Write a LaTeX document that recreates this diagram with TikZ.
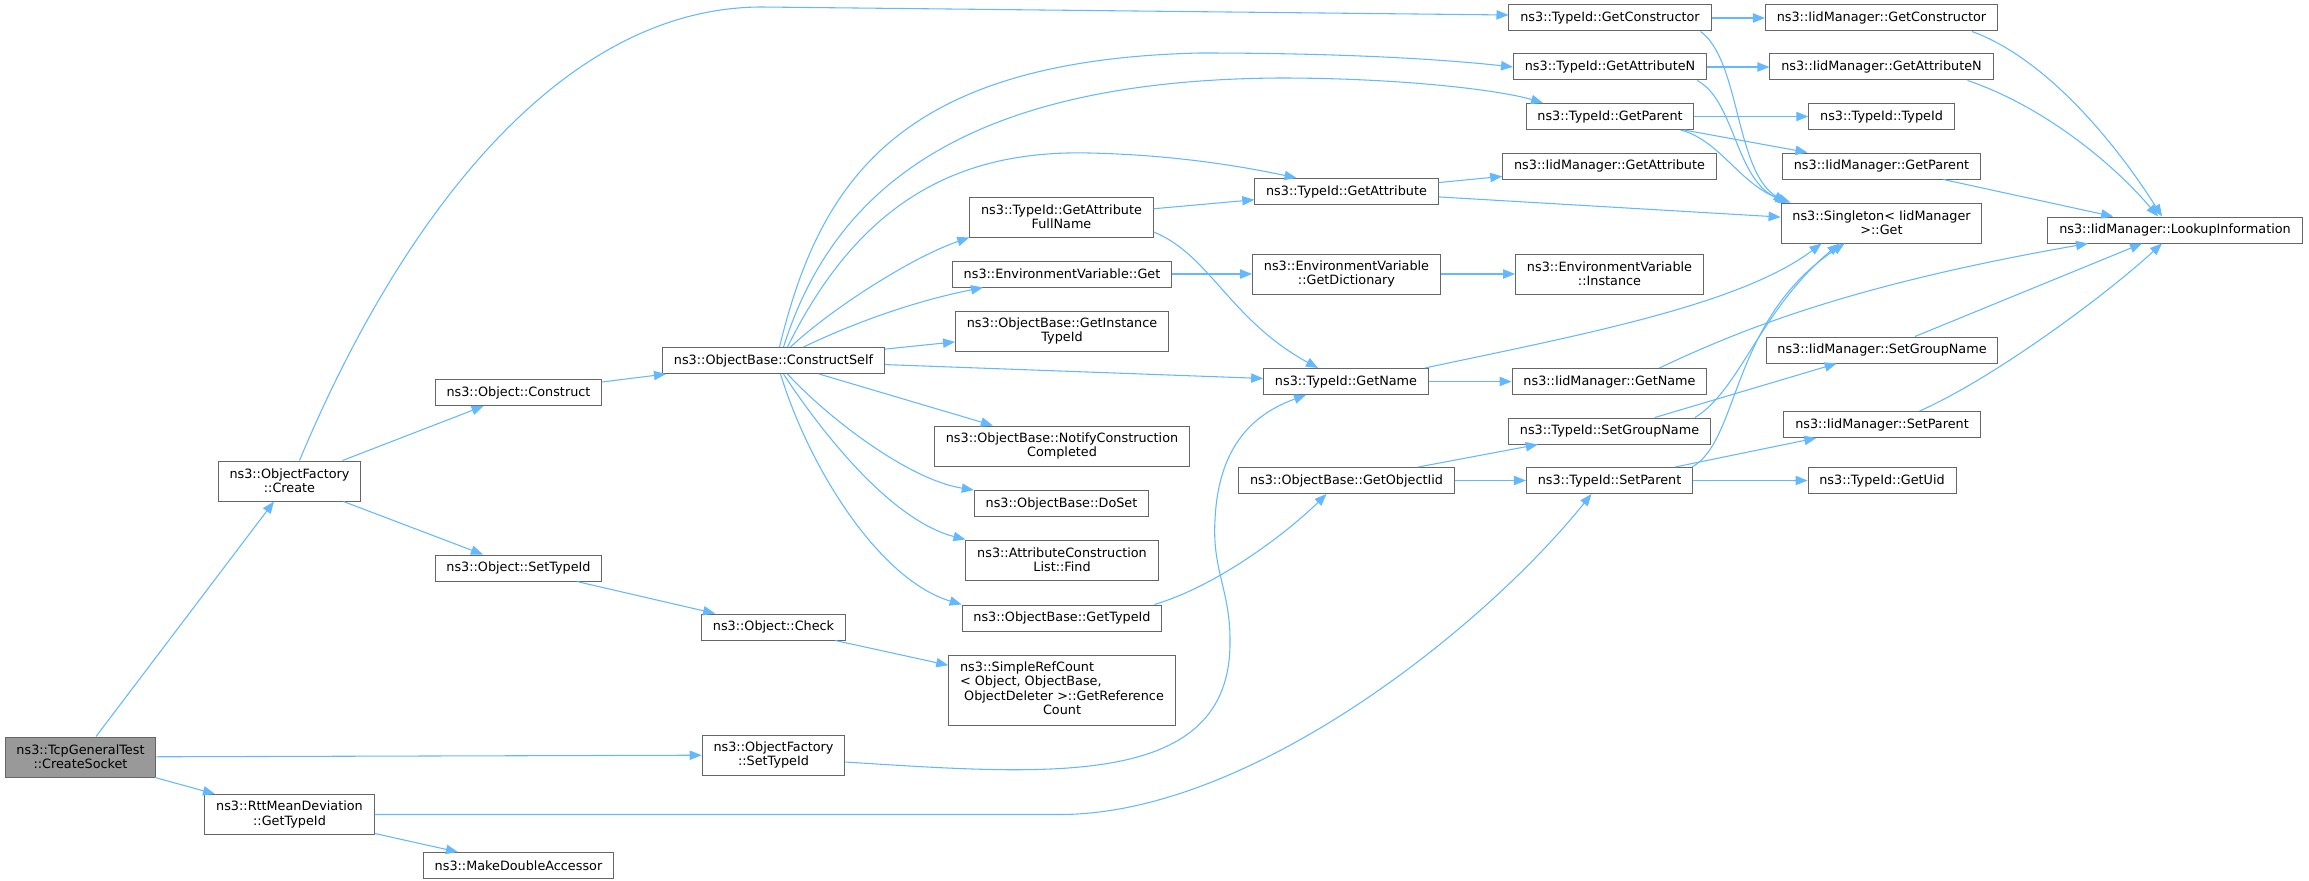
\documentclass[tikz,border=0pt]{standalone}
\usepackage{fontspec}
\setmainfont{DejaVu Sans}
\usepackage{xcolor}
\usetikzlibrary{arrows.meta,calc}
\definecolor{edgeblue}{HTML}{63B8FF}
\definecolor{boxgrey}{HTML}{666666}
\definecolor{curgrey}{HTML}{999999}
\tikzset{
  fn/.style={draw=boxgrey, line width=0.75pt, fill=white, inner xsep=8.5pt, inner ysep=2pt,
    minimum height=19.5pt, align=center, font=\fontsize{9.6}{10.8}\selectfont},
  fn2/.style={fn, minimum height=30pt},
  fn4/.style={fn, minimum height=52.5pt},
  cur/.style={fn2, fill=curgrey},
  call/.style={draw=edgeblue, line width=0.8pt, -{Triangle[length=9pt,width=7pt]}},
}

\begin{document}
\begin{tikzpicture}[x=0.75pt, y=-0.75pt]
    \useasboundingbox (0,0) rectangle (2309,881);
    % callers
    \node[cur] (cs) at (80.5,757) {ns3::TcpGeneralTest\\::CreateSocket};
    \node[fn2] (ofc) at (289.5,481) {ns3::ObjectFactory\\::Create};
    \node[fn2] (rtt) at (289.5,814.5) {ns3::RttMeanDeviation\\::GetTypeId};
    \node[fn] (oc) at (518.5,392.5) {ns3::Object::Construct};
    \node[fn] (ost) at (518.5,568) {ns3::Object::SetTypeId};
    \node[fn] (mda) at (518.5,865.5) {ns3::MakeDoubleAccessor};
    \node[fn] (ocs) at (773.5,360.5) {ns3::ObjectBase::ConstructSelf};
    \node[fn] (oche) at (773.5,627) {ns3::Object::Check};
    \node[fn2] (ofst) at (773.5,755) {ns3::ObjectFactory\\::SetTypeId};
    % ObjectBase column
    \node[fn2] (gafn) at (1061.5,217) {ns3::TypeId::GetAttribute\\FullName};
    \node[fn] (evg) at (1062,274) {ns3::EnvironmentVariable::Get};
    \node[fn2] (gitid) at (1062,331) {ns3::ObjectBase::GetInstance\\TypeId};
    \node[fn2] (ncc) at (1062,446) {ns3::ObjectBase::NotifyConstruction\\Completed};
    \node[fn] (doset) at (1061.5,503.5) {ns3::ObjectBase::DoSet};
    \node[fn2] (acl) at (1062,560) {ns3::AttributeConstruction\\List::Find};
    \node[fn] (obgt) at (1062,618) {ns3::ObjectBase::GetTypeId};
    \node[fn4] (src) at (1062,690) {\begin{tabular}{@{}l@{}}ns3::SimpleRefCount\\< Object, ObjectBase,\\\ ObjectDeleter >::GetReference\\\multicolumn{1}{@{}c@{}}{Count}\end{tabular}};
    \node[fn] (tga) at (1346.5,191.5) {ns3::TypeId::GetAttribute};
    \node[fn2] (evgd) at (1346.5,274) {ns3::EnvironmentVariable\\::GetDictionary};
    \node[fn] (tgn) at (1346,381.5) {ns3::TypeId::GetName};
    \node[fn] (goi) at (1346.5,480.5) {ns3::ObjectBase::GetObjectIid};
    % TypeId column
    \node[fn] (tgc) at (1610,18) {ns3::TypeId::GetConstructor};
    \node[fn] (tgan) at (1610,67) {ns3::TypeId::GetAttributeN};
    \node[fn] (tgp) at (1610,116.5) {ns3::TypeId::GetParent};
    \node[fn] (iga) at (1609.5,166) {ns3::IidManager::GetAttribute};
    \node[fn2] (evi) at (1609.5,274) {ns3::EnvironmentVariable\\::Instance};
    \node[fn] (ign) at (1609.5,381.5) {ns3::IidManager::GetName};
    \node[fn] (tsg) at (1609.5,431) {ns3::TypeId::SetGroupName};
    \node[fn] (tsp) at (1609.5,480.5) {ns3::TypeId::SetParent};
    % IidManager column
    \node[fn] (igc) at (1881.5,18) {ns3::IidManager::GetConstructor};
    \node[fn] (igan) at (1881.5,67) {ns3::IidManager::GetAttributeN};
    \node[fn] (ttid) at (1881.5,116.5) {ns3::TypeId::TypeId};
    \node[fn] (igp) at (1881.5,166) {ns3::IidManager::GetParent};
    \node[fn2] (sg) at (1881.5,223) {ns3::Singleton< IidManager\\>::Get};
    \node[fn] (isg) at (1882,350) {ns3::IidManager::SetGroupName};
    \node[fn] (isp) at (1882,424.5) {ns3::IidManager::SetParent};
    \node[fn] (tgu) at (1882,480.5) {ns3::TypeId::GetUid};
    \node[fn] (ili) at (2175,230) {ns3::IidManager::LookupInformation};

    % CreateSocket
    \draw[call] (cs) -- (ofc);
    \draw[call] (cs) -- (ofst);
    \draw[call] (cs) -- (rtt);
    % Create
    \draw[call] ($(ofc.north)+(10,0)$) .. controls (400,220) and (560,7) .. (762,7) -- ($(tgc.west)+(0,-3)$);
    \draw[call] (ofc) -- (oc);
    \draw[call] (ofc) -- (ost);
    \draw[call] (oc) -- (ocs);
    \draw[call] (ost) -- (oche);
    \draw[call] (oche) -- (src);
    \draw[call] ($(ofst.east)+(0,7)$) .. controls (1050,775) and (1232,790) .. (1230,640)
        .. controls (1230,590) and (1212,570) .. (1215,520)
        .. controls (1218,450) and (1250,415) .. ($(tgn.south)+(-40,0)$);
    \draw[call] (rtt.east) -- (1060,814.5) .. controls (1250,814.5) and (1483,629) .. ($(tsp.south)+(-18,0)$);
    \draw[call] (rtt) -- (mda);
    % ConstructSelf
    \draw[call] ($(ocs.north)+(6,0)$) .. controls (820,180) and (900,60) .. (1200,53)
        .. controls (1350,53) and (1450,60) .. (tgan.west);
    \draw[call] ($(ocs.north)+(10,0)$) .. controls (830,200) and (950,80) .. (1280,78)
        .. controls (1400,78) and (1500,90) .. ($(tgp.north)+(-67,0)$);
    \draw[call] ($(ocs.north)+(14,0)$) .. controls (860,200) and (960,150) .. (1089,153)
        .. controls (1180,155) and (1250,168) .. ($(tga.north)+(-50,0)$);
    \draw[call] ($(ocs.north)+(17,0)$) .. controls (830,310) and (910,258) .. (gafn.south west);
    \draw[call] ($(ocs.north)+(30,0)$) .. controls (860,320) and (920,300) .. ($(evg.south)+(-79,0)$);
    \draw[call] (ocs) -- (gitid);
    \draw[call] (ocs) -- (tgn);
    \draw[call] (ocs) -- (ncc);
    \draw[call] ($(ocs.south)+(14,0)$) .. controls (830,420) and (910,480) .. (doset.north west);
    \draw[call] ($(ocs.south)+(10,0)$) .. controls (820,430) and (890,520) .. (acl.north west);
    \draw[call] ($(ocs.south)+(7,0)$) .. controls (810,470) and (880,580) .. (obgt.north west);
    % second level
    \draw[call] (gafn) -- (tga);
    \draw[call] ($(gafn.east)+(0,15)$) .. controls (1210,255) and (1230,320) .. ($(tgn.north)+(-28,0)$);
    \draw[call] (evg) -- (evgd);
    \draw[call] (evgd) -- (evi);
    \draw[call] ($(obgt.north east)+(-8,0)$) .. controls (1220,585) and (1290,530) .. ($(goi.south)+(-20,0)$);
    \draw[call] (goi) -- (tsg);
    \draw[call] (goi) -- (tsp);
    % TypeId
    \draw[call] (tgc) -- (igc);
    \draw[call] ($(tgc.south east)+(-11,0)$) .. controls (1740,60) and (1735,170) .. ($(sg.north west)+(5,0)$);
    \draw[call] (tgan) -- (igan);
    \draw[call] ($(tgan.south east)+(-10,0)$) .. controls (1735,100) and (1735,180) .. ($(sg.north west)+(7,0)$);
    \draw[call] (tgp) -- (ttid);
    \draw[call] (tgp) -- (igp);
    \draw[call] ($(tgp.south east)+(-14,0)$) .. controls (1720,140) and (1740,185) .. ($(sg.north west)+(10,0)$);
    \draw[call] (tga) -- (iga);
    \draw[call] (tga) -- (sg);
    \draw[call] (tgn) -- (ign);
    \draw[call] ($(tgn.north east)+(-4,0)$) .. controls (1580,335) and (1740,305) .. ($(sg.south)+(-60,0)$);
    \draw[call] (tsg) -- (isg);
    \draw[call] ($(tsg.north east)+(-16,0)$) .. controls (1740,390) and (1760,310) .. ($(sg.south)+(-42,0)$);
    \draw[call] (tsp) -- (isp);
    \draw[call] (tsp) -- (tgu);
    \draw[call] ($(tsp.north east)+(-1,0)$) .. controls (1740,440) and (1730,320) .. ($(sg.south)+(-37,0)$);
    % IidManager
    \draw[call] ($(igc.south east)+(-26,0)$) .. controls (2050,60) and (2120,150) .. ($(ili.north)+(-13,0)$);
    \draw[call] ($(igan.south east)+(-26,0)$) .. controls (2040,105) and (2110,160) .. ($(ili.north)+(-17,0)$);
    \draw[call] (igp) -- (ili);
    \draw[call] ($(ign.north east)+(-48,0)$) .. controls (1740,330) and (1850,285) .. ($(ili.south)+(-87,0)$);
    \draw[call] (isg) -- (ili);
    \draw[call] ($(isp.north east)+(-61,0)$) .. controls (1990,380) and (2100,300) .. ($(ili.south)+(-13,0)$);
\end{tikzpicture}
\end{document}
